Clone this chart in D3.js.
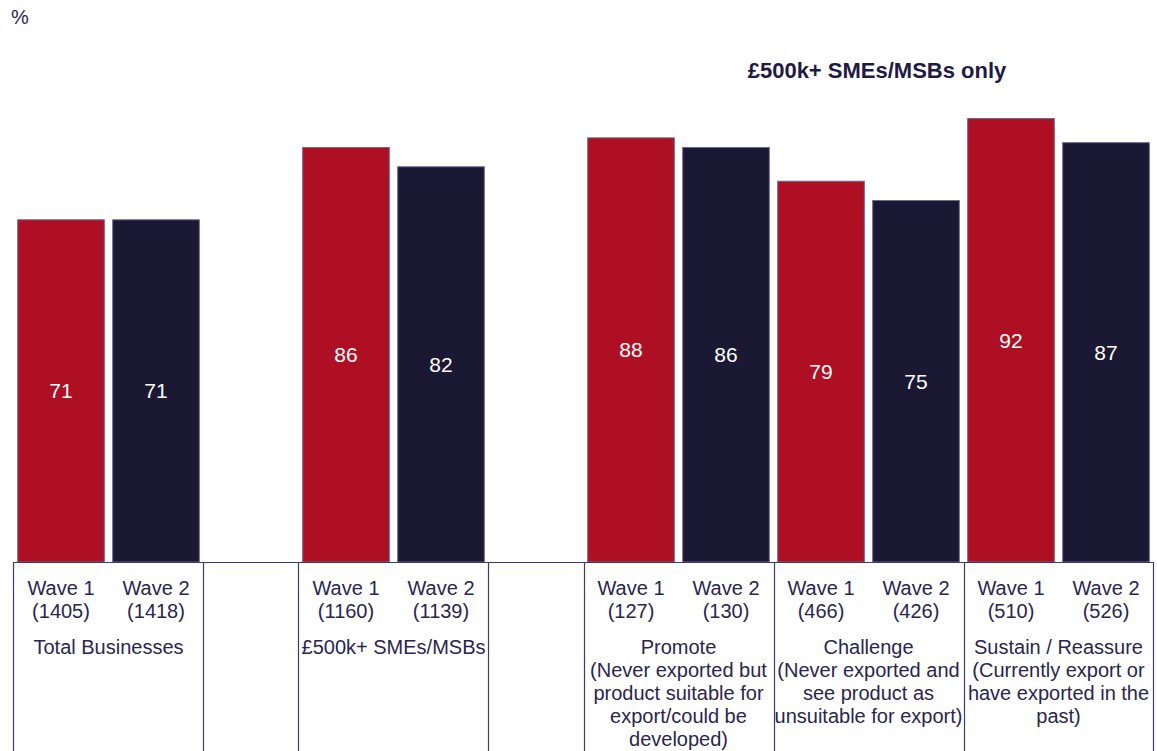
<!DOCTYPE html>
<html>
<head>
<meta charset="utf-8">
<script src="https://cdn.jsdelivr.net/npm/d3@7"></script>
<style>
  html, body { margin: 0; padding: 0; background: #ffffff; }
  svg { display: block; font-family: "Liberation Sans", Arial, sans-serif; }
</style>
</head>
<body>
<svg id="chart" width="1157" height="751"></svg>
<script>
// Segments shown along the axis
const groups = ["Total Businesses", "£500k+ SMEs/MSBs", "Promote", "Challenge", "Sustain / Reassure"];
const groupNotes = [
  [],
  [],
  ["(Never exported but", "product suitable for", "export/could be", "developed)"],
  ["(Never exported and", "see product as", "unsuitable for export)"],
  ["(Currently export or", "have exported in the", "past)"]
];
// Empty spacer column after these segments
const gapAfter = [true, true, false, false, false];

// Series: share (%) per wave, and base sizes
const waves = ["Wave 1", "Wave 2"];
const wave1Values = [71, 86, 88, 79, 92];
const wave2Values = [71, 82, 86, 75, 87];
const wave1Bases = [1405, 1160, 127, 466, 510];
const wave2Bases = [1418, 1139, 130, 426, 526];

const subsetTitle = "£500k+ SMEs/MSBs only";
const unitLabel = "%";

const colors = { "Wave 1": "#ae0f23", "Wave 2": "#1b1833" };
const ink = "#2a2552";
const rule = "#3e3a6a";

// Build slot list: each segment gets two bar slots, some followed by a spacer
const slots = [];
const bars = [];
groups.forEach((g, i) => {
  const vals = [wave1Values[i], wave2Values[i]];
  const bases = [wave1Bases[i], wave2Bases[i]];
  waves.forEach((w, j) => {
    const key = `g${i}-w${j}`;
    slots.push(key);
    bars.push({ key, group: i, wave: w, value: vals[j], base: bases[j] });
  });
  if (gapAfter[i]) slots.push(`gap${i}`);
});

const svg = d3.select("#chart");
const baseY = 562;

const x = d3.scaleBand()
  .domain(slots)
  .range([13.5, 1153.5])
  .paddingInner(0.088)
  .paddingOuter(0.044);

const y = d3.scaleLinear().domain([0, 100]).range([baseY, 80]);

// Unit label
svg.append("text")
  .attr("x", 11).attr("y", 24)
  .attr("font-size", 20).attr("fill", ink)
  .text(unitLabel);

// Subset heading
svg.append("text")
  .attr("x", 877).attr("y", 78)
  .attr("text-anchor", "middle")
  .attr("font-size", 22).attr("font-weight", "bold")
  .attr("fill", "#1f1a45")
  .text(subsetTitle);

// Bars
svg.append("g").selectAll("rect")
  .data(bars)
  .join("rect")
  .attr("x", d => x(d.key))
  .attr("y", d => y(d.value))
  .attr("width", x.bandwidth())
  .attr("height", d => y(0) - y(d.value))
  .attr("fill", d => colors[d.wave])
  .attr("stroke", "#6e6894")
  .attr("stroke-width", 1);

// Value labels centred in each bar
svg.append("g").selectAll("text")
  .data(bars)
  .join("text")
  .attr("x", d => x(d.key) + x.bandwidth() / 2)
  .attr("y", d => (y(d.value) + y(0)) / 2)
  .attr("dy", "0.36em")
  .attr("text-anchor", "middle")
  .attr("font-size", 21)
  .attr("fill", "#ffffff")
  .text(d => d.value);

// Category table beneath the bars
const step = x.step();
const slotStart = k => x(k) - step * x.paddingInner() / 2;
const cells = [];
groups.forEach((g, i) => {
  cells.push({ x0: slotStart(`g${i}-w0`), x1: slotStart(`g${i}-w1`) + step });
  if (gapAfter[i]) cells.push({ x0: slotStart(`gap${i}`), x1: slotStart(`gap${i}`) + step });
});
const edges = Array.from(new Set(cells.flatMap(c => [c.x0, c.x1])));

const table = svg.append("g");
table.append("line")
  .attr("x1", edges[0]).attr("x2", edges[edges.length - 1])
  .attr("y1", baseY + 0.5).attr("y2", baseY + 0.5)
  .attr("stroke", rule).attr("stroke-width", 1.2);
table.selectAll("line.v")
  .data(edges)
  .join("line")
  .attr("class", "v")
  .attr("x1", d => Math.round(d) + 0.5).attr("x2", d => Math.round(d) + 0.5)
  .attr("y1", baseY).attr("y2", 751)
  .attr("stroke", rule).attr("stroke-width", 1.2);

// Wave name and base size under each bar
const waveText = table.selectAll("text.wave")
  .data(bars)
  .join("text")
  .attr("class", "wave")
  .attr("text-anchor", "middle")
  .attr("font-size", 20)
  .attr("fill", ink);
waveText.append("tspan")
  .attr("x", d => x(d.key) + x.bandwidth() / 2)
  .attr("y", 595)
  .text(d => d.wave);
waveText.append("tspan")
  .attr("x", d => x(d.key) + x.bandwidth() / 2)
  .attr("y", 618)
  .text(d => `(${d.base})`);

// Segment names with their descriptions
groups.forEach((g, i) => {
  const cx = (slotStart(`g${i}-w0`) + slotStart(`g${i}-w1`) + step) / 2;
  const lines = [g, ...groupNotes[i]];
  const t = table.append("text")
    .attr("text-anchor", "middle")
    .attr("font-size", 20)
    .attr("fill", ink);
  lines.forEach((ln, k) => {
    t.append("tspan").attr("x", cx).attr("y", 654 + k * 23).text(ln);
  });
});
</script>
</body>
</html>
